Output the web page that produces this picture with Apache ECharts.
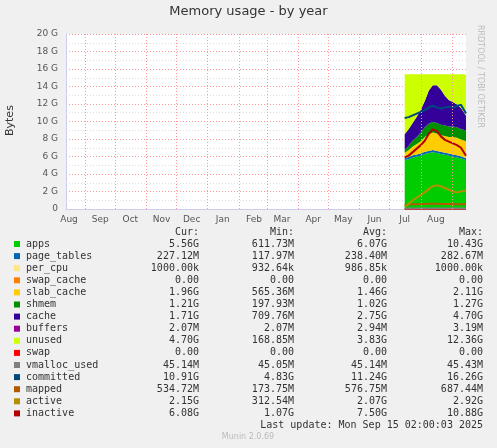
<!DOCTYPE html>
<html>
<head>
<meta charset="utf-8">
<script src="https://cdn.jsdelivr.net/npm/echarts@6/dist/echarts.min.js"></script>
<style>
html, body { margin: 0; padding: 0; background: #f0f0f0; }
#chart { width: 497px; height: 448px; }
</style>
</head>
<body>
<div id="chart"></div>
<script>
// sample dates (every 4 days from mid July)
var dates = ['2025-07-16','2025-07-20','2025-07-24','2025-07-28','2025-08-01','2025-08-05','2025-08-09','2025-08-13',
             '2025-08-17','2025-08-21','2025-08-25','2025-08-29','2025-09-02','2025-09-06','2025-09-10','2025-09-15'];

// values in G
var apps        = [5.6,5.7,5.9,6.0,6.1,6.3,6.4,6.5,6.4,6.3,6.2,6.1,6.0,5.9,5.8,5.56];
var page_tables = [0.23,0.23,0.24,0.24,0.24,0.24,0.24,0.24,0.24,0.24,0.24,0.24,0.23,0.23,0.23,0.23];
var per_cpu     = [0.001,0.001,0.001,0.001,0.001,0.001,0.001,0.001,0.001,0.001,0.001,0.001,0.001,0.001,0.001,0.001];
var swap_cache  = [0,0,0,0,0,0,0,0,0,0,0,0,0,0,0,0];
var slab_cache  = [0.6,0.8,1.0,1.2,1.4,1.7,1.9,2.0,2.0,1.9,1.9,1.9,2.0,2.0,1.9,1.96];
var shmem       = [0.3,0.5,0.7,0.8,1.0,1.1,1.2,1.2,1.2,1.2,1.2,1.2,1.2,1.2,1.2,1.21];
var cache       = [1.8,1.9,2.0,2.3,2.6,3.0,3.8,4.2,4.3,4.0,3.4,3.0,2.8,2.6,2.4,1.71];
var buffers     = [0.003,0.003,0.003,0.003,0.003,0.003,0.003,0.003,0.003,0.003,0.003,0.003,0.003,0.003,0.002,0.002];
var unused      = [6.87,6.27,5.57,4.87,4.07,3.07,1.87,1.27,1.27,1.77,2.47,2.97,3.17,3.47,3.87,4.70];
var swap        = [0,0,0,0,0,0,0,0,0,0,0,0,0,0,0,0];
var vmalloc     = [0.045,0.045,0.045,0.045,0.045,0.045,0.045,0.045,0.045,0.045,0.045,0.045,0.045,0.045,0.045,0.045];
var committed   = [10.4,10.5,10.7,10.9,11.1,11.3,11.6,11.8,11.6,11.5,11.6,11.7,11.6,11.8,11.9,10.91];
var mapped      = [0.5,0.52,0.55,0.55,0.56,0.58,0.6,0.6,0.6,0.58,0.57,0.56,0.55,0.55,0.54,0.53];
var active      = [0.3,0.6,1.0,1.3,1.6,1.9,2.3,2.6,2.7,2.6,2.4,2.2,2.0,1.9,2.0,2.15];
var inactive    = [5.9,6.1,6.5,6.9,7.3,7.8,8.6,9.1,8.9,8.3,7.9,7.7,7.5,7.3,7.0,6.08];

var monthNames = ['Jan','Feb','Mar','Apr','May','Jun','Jul','Aug','Sep','Oct','Nov','Dec'];

// legend table rows: name, colour, cur, min, avg, max
var legendRows = [
  ['apps','#00CC00','5.56G','611.73M','6.07G','10.43G'],
  ['page_tables','#0066B3','227.12M','117.97M','238.40M','282.67M'],
  ['per_cpu','#FFE680','1000.00k','932.64k','986.85k','1000.00k'],
  ['swap_cache','#FF8000','0.00','0.00','0.00','0.00'],
  ['slab_cache','#FFCC00','1.96G','565.36M','1.46G','2.11G'],
  ['shmem','#008F00','1.21G','197.93M','1.02G','1.27G'],
  ['cache','#330099','1.71G','709.76M','2.75G','4.70G'],
  ['buffers','#990099','2.07M','2.07M','2.94M','3.19M'],
  ['unused','#CCFF00','4.70G','168.85M','3.83G','12.36G'],
  ['swap','#FF0000','0.00','0.00','0.00','0.00'],
  ['vmalloc_used','#808080','45.14M','45.05M','45.14M','45.43M'],
  ['committed','#00487D','10.91G','4.83G','11.24G','16.26G'],
  ['mapped','#B35A00','534.72M','173.75M','576.75M','687.44M'],
  ['active','#B38F00','2.15G','312.54M','2.07G','2.92G'],
  ['inactive','#B30000','6.08G','1.07G','7.50G','10.88G']
];

// day categories for the 400 day window
var days = [];
var d = new Date(Date.UTC(2024, 7, 13));
var end = new Date(Date.UTC(2025, 8, 15));
while (d <= end) {
  days.push(d.toISOString().slice(0, 10));
  d = new Date(d.getTime() + 86400000);
}
var monthStarts = days.filter(function (s) { return s.slice(8) === '01'; });

function pairs(arr) {
  return arr.map(function (v, i) { return [dates[i], v]; });
}

var stacked = [
  ['apps', apps], ['page_tables', page_tables], ['per_cpu', per_cpu], ['swap_cache', swap_cache],
  ['slab_cache', slab_cache], ['shmem', shmem], ['cache', cache], ['buffers', buffers], ['unused', unused]
];
var lines = [
  ['swap', swap], ['vmalloc_used', vmalloc], ['committed', committed],
  ['mapped', mapped], ['active', active], ['inactive', inactive]
];
function colorOf(name) {
  for (var i = 0; i < legendRows.length; i++) if (legendRows[i][0] === name) return legendRows[i][1];
}

var series = [];
stacked.forEach(function (s, i) {
  series.push({
    name: s[0], type: 'line', stack: 'mem', data: pairs(s[1]),
    symbol: 'none', lineStyle: { width: 0 },
    areaStyle: { color: colorOf(s[0]), opacity: 1 },
    itemStyle: { color: colorOf(s[0]) },
    markLine: i === 0 ? {
      silent: true, symbol: 'none', label: { show: false },
      lineStyle: { color: '#ff9999', type: [1, 2], width: 1 },
      data: monthStarts.map(function (m) { return { xAxis: m }; })
    } : undefined
  });
});
lines.forEach(function (s) {
  series.push({
    name: s[0], type: 'line', data: pairs(s[1]), symbol: 'none',
    lineStyle: { color: colorOf(s[0]), width: 2 }, itemStyle: { color: colorOf(s[0]) }
  });
});

var mono = 'DejaVu Sans Mono';
var graphics = [
  { type: 'text', left: 'center', top: 5, style: { text: 'Memory usage - by year', font: '13px DejaVu Sans', fill: '#333' } },
  { type: 'text', x: 5, y: 136, rotation: Math.PI / 2, style: { text: 'Bytes', font: '11px DejaVu Sans', fill: '#333' } },
  { type: 'text', x: 484, y: 25, rotation: -Math.PI / 2, style: { text: 'RRDTOOL / TOBI OETIKER', font: '8px DejaVu Sans', fill: '#bbb' } }
];
var heads = ['Cur:', 'Min:', 'Avg:', 'Max:'];
var colX = [199, 294, 387, 483];
heads.forEach(function (h, j) {
  graphics.push({ type: 'text', x: colX[j], y: 227, style: { text: h, font: '10px ' + mono, fill: '#333', align: 'right' } });
});
legendRows.forEach(function (r, i) {
  var y = 239 + i * 12.1;
  graphics.push({ type: 'rect', shape: { x: 14, y: y + 2, width: 6, height: 6 }, style: { fill: r[1] } });
  graphics.push({ type: 'text', x: 26, y: y, style: { text: r[0], font: '10px ' + mono, fill: '#333' } });
  for (var j = 0; j < 4; j++) {
    graphics.push({ type: 'text', x: colX[j], y: y, style: { text: r[j + 2], font: '10px ' + mono, fill: '#333', align: 'right' } });
  }
});
graphics.push({ type: 'text', x: 483, y: 420, style: { text: 'Last update: Mon Sep 15 02:00:03 2025', font: '10px ' + mono, fill: '#333', align: 'right' } });
graphics.push({ type: 'text', x: 248, y: 433, style: { text: 'Munin 2.0.69', font: '8px DejaVu Sans', fill: '#bbb', align: 'center' } });

var chart = echarts.init(document.getElementById('chart'));
chart.setOption({
  backgroundColor: '#f0f0f0',
  animation: false,
  grid: { left: 66, right: 31, top: 34, bottom: 239, backgroundColor: '#fff', show: true, borderWidth: 0 },
  xAxis: {
    type: 'category', data: days, boundaryGap: false,
    axisLine: { lineStyle: { color: '#ccccee' } },
    axisTick: { show: false },
    axisLabel: {
      color: '#555', fontSize: 9, fontFamily: 'DejaVu Sans', margin: 6,
      interval: function (idx, val) { return val.slice(8) === '16'; },
      formatter: function (val) { return monthNames[parseInt(val.slice(5, 7), 10) - 1]; }
    },
    splitLine: { show: false }
  },
  yAxis: {
    type: 'value', min: 0, max: 20, interval: 2,
    axisLine: { show: true, lineStyle: { color: '#ccccee' } }, axisTick: { show: false },
    axisLabel: { color: '#555', fontSize: 9, fontFamily: 'DejaVu Sans', formatter: function (v) { return v === 0 ? '0' : v + ' G'; } },
    splitLine: { lineStyle: { color: '#ff9999', type: [1, 2] } },
    minorTick: { show: false, splitNumber: 2 },
    minorSplitLine: { show: true, lineStyle: { color: '#dddddd', type: [1, 2] } }
  },
  series: series,
  graphic: graphics
});
</script>
</body>
</html>
